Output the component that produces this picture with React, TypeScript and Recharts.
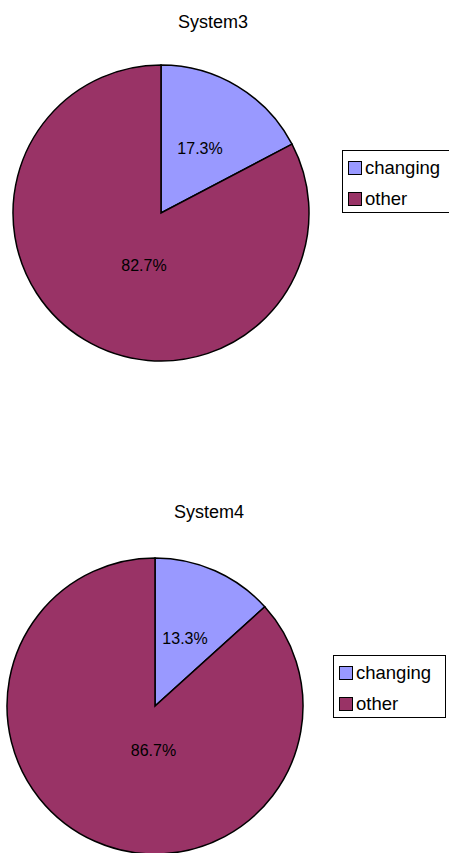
import { PieChart, Pie, Cell } from 'recharts';
import { FC } from 'react';

const categories = ['changing', 'other'];
const system3Values = [17.3, 82.7];
const system4Values = [13.3, 86.7];
const COLORS = ['#9999FF', '#993366'];
const FONT = '"Liberation Sans", Arial, sans-serif';

const RADIAN = Math.PI / 180;

interface Props {
    title: string;
    values: number[];
    top: number;
    cx: number;
    cy: number;
    titleX: number;
    legendX: number;
    legendY: number;
    labelRadius: number[];
    labelTurn: number[];
}

const LegendBox = ({ x, y }: { x: number, y: number }) => (
    <div style={{
        position: 'absolute', left: x, top: y, width: 113, height: 63,
        border: '1px solid #000', background: '#fff', boxSizing: 'border-box',
        padding: '1px 0 0 5px', fontFamily: FONT, fontSize: 18.5,
    }}>
        {categories.map((c, i) => (
            <div key={c} style={{ display: 'flex', alignItems: 'center', height: 31 }}>
                <span style={{ width: 12, height: 12, background: COLORS[i], border: '1px solid #000', marginRight: 3 }} />
                <span>{c}</span>
            </div>
        ))}
    </div>
);

const SystemPie: FC<Props> = ({ title, values, top, cx, cy, titleX, legendX, legendY, labelRadius, labelTurn }) => {
    const data = categories.map((name, i) => ({ name, value: values[i] }));
    const renderLabel = ({ cx: px, cy: py, midAngle, outerRadius, index, value }: any) => {
        const r = outerRadius * labelRadius[index];
        const a = (midAngle + labelTurn[index]) * RADIAN;
        const x = px + r * Math.cos(-a);
        const y = py + r * Math.sin(-a);
        return (
            <text x={x} y={y} fill="#000" textAnchor="middle" dominantBaseline="central"
                fontFamily={FONT} fontSize={16}>
                {`${value.toFixed(1)}%`}
            </text>
        );
    };
    return (
        <div style={{ position: 'absolute', left: 0, top, width: 449, height: 430 }}>
            <div style={{
                position: 'absolute', left: titleX - 60, width: 120, top: 12, textAlign: 'center',
                fontFamily: FONT, fontSize: 18,
            }}>{title}</div>
            <PieChart width={449} height={430} margin={{ top: 0, right: 0, bottom: 0, left: 0 }}>
                <Pie
                    data={data}
                    dataKey="value"
                    nameKey="name"
                    cx={cx}
                    cy={cy}
                    outerRadius={148}
                    startAngle={90}
                    endAngle={-270}
                    stroke="#000"
                    strokeWidth={1.5}
                    labelLine={false}
                    label={renderLabel}
                    isAnimationActive={false}
                >
                    {data.map((entry, index) => (
                        <Cell key={`cell-${entry.name}`} fill={COLORS[index % COLORS.length]} />
                    ))}
                </Pie>
            </PieChart>
            <LegendBox x={legendX} y={legendY} />
        </div>
    );
};

const App = () => (
    <div style={{ position: 'fixed', left: 0, top: 0, width: 449, height: 853, background: '#fff', overflow: 'hidden' }}>
        <SystemPie title="System3" values={system3Values} top={0} cx={161} cy={213}
            titleX={213} legendX={342} legendY={150} labelRadius={[0.51, 0.37]} labelTurn={[0, 13]} />
        <SystemPie title="System4" values={system4Values} top={490} cx={155} cy={216}
            titleX={209} legendX={333} legendY={165} labelRadius={[0.5, 0.3]} labelTurn={[0, 22]} />
    </div>
);

export default App;
